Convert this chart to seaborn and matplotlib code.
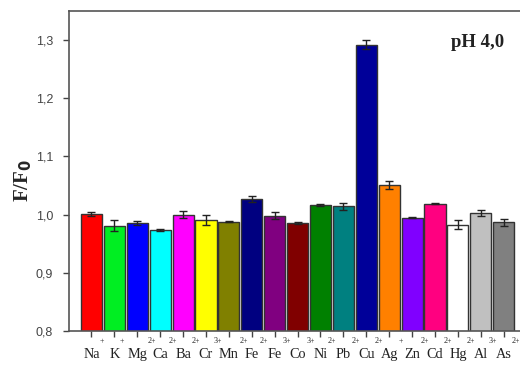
import numpy as np
import pandas as pd
import matplotlib
matplotlib.use("Agg")
import matplotlib.pyplot as plt
import seaborn as sns

# Metal ions tested and their relative fluorescence response at pH 4.0
ions = ["Na", "K", "Mg", "Ca", "Ba", "Cr", "Mn", "Fe", "Fe", "Co",
        "Ni", "Pb", "Cu", "Ag", "Zn", "Cd", "Hg", "Al", "As"]
charges = ["+", "+", "2+", "2+", "2+", "3+", "2+", "2+", "3+", "3+",
           "2+", "2+", "2+", "+", "2+", "2+", "2+", "3+", "2+"]
ratio = [1.001, 0.981, 0.985, 0.974, 1.000, 0.991, 0.988, 1.027, 0.998, 0.986,
         1.017, 1.014, 1.292, 1.051, 0.995, 1.019, 0.983, 1.003, 0.987]
err = [0.0035, 0.0098, 0.0035, 0.0017, 0.006, 0.009, 0.0005, 0.0046, 0.0057, 0.0015,
       0.002, 0.0057, 0.008, 0.0075, 0.0008, 0.0015, 0.0075, 0.005, 0.0063]
colors = ["#ff0000", "#00ee22", "#0000ff", "#00ffff", "#ff00ff", "#ffff00",
          "#808000", "#000080", "#800080", "#800000", "#008000", "#008080",
          "#000099", "#ff8000", "#8000ff", "#ff0080", "#ffffff", "#c0c0c0",
          "#808080"]

labels = [f"{s}{c}" for s, c in zip(ions, charges)]
df = pd.DataFrame({"ion": labels, "ratio": ratio, "err": err})

sns.set_style("ticks")
plt.rcParams["font.family"] = ["Liberation Serif", "DejaVu Sans"]

fig = plt.figure(figsize=(5.2, 3.65), dpi=100)
ax = fig.add_axes([0.1327, 0.0932, 0.8673, 0.8767])

sns.barplot(data=df, x="ion", y="ratio", hue="ion", palette=colors,
            saturation=1, legend=False, width=0.92, edgecolor="#333333",
            linewidth=1.0, errorbar=None, ax=ax)

# error bars centred on each drawn bar
xs = [p.get_x() + p.get_width() / 2 for p in ax.patches][:len(ratio)]
ax.errorbar(xs, df["ratio"], yerr=df["err"], fmt="none", ecolor="#222222",
            elinewidth=1.0, capsize=3, capthick=1.0, zorder=5)

ax.set_ylim(0.8, 1.35)
ax.set_xlim(-0.98, 18.71)
ax.set_yticks([0.8, 0.9, 1.0, 1.1, 1.2, 1.3])
ax.set_yticklabels(["0,8", "0,9", "1,0", "1,1", "1,2", "1,3"],
                   family="Liberation Sans", fontsize=9, color="#444444")
ax.set_xticks(range(len(ions)))
ax.set_xticklabels(ions, fontsize=10.3, color="#222222")
ax.tick_params(axis="y", direction="out", length=4.5, width=1, color="#444444", pad=7)
ax.tick_params(axis="x", direction="out", length=4.5, width=1, color="#444444", pad=8)

for side in ["left", "bottom", "top"]:
    ax.spines[side].set_color("#555555")
    ax.spines[side].set_linewidth(1.2)
ax.spines["right"].set_visible(False)

ax.set_xlabel("")
ax.set_ylabel("F/F$_\\mathbf{0}$", fontsize=15, fontweight="bold")
ax.yaxis.set_label_coords(-0.078, 0.469)

ax.text(0.965, 0.901, "pH 4,0", transform=ax.transAxes, ha="right",
        va="center", fontsize=13.5, fontweight="bold", color="#222222")

# charges drawn as raised superscripts to the right of each symbol
fig.canvas.draw()
renderer = fig.canvas.get_renderer()
inv = fig.transFigure.inverted()
for lab, ch in zip(ax.get_xticklabels(), charges):
    bb = lab.get_window_extent(renderer)
    fx, fy = inv.transform((bb.x1 + 0.3, ax.bbox.y0 - 10.5))
    fig.text(fx, fy, ch, fontsize=5.8, color="#222222", ha="left", va="center")

fig.savefig("out.png", dpi=100)
